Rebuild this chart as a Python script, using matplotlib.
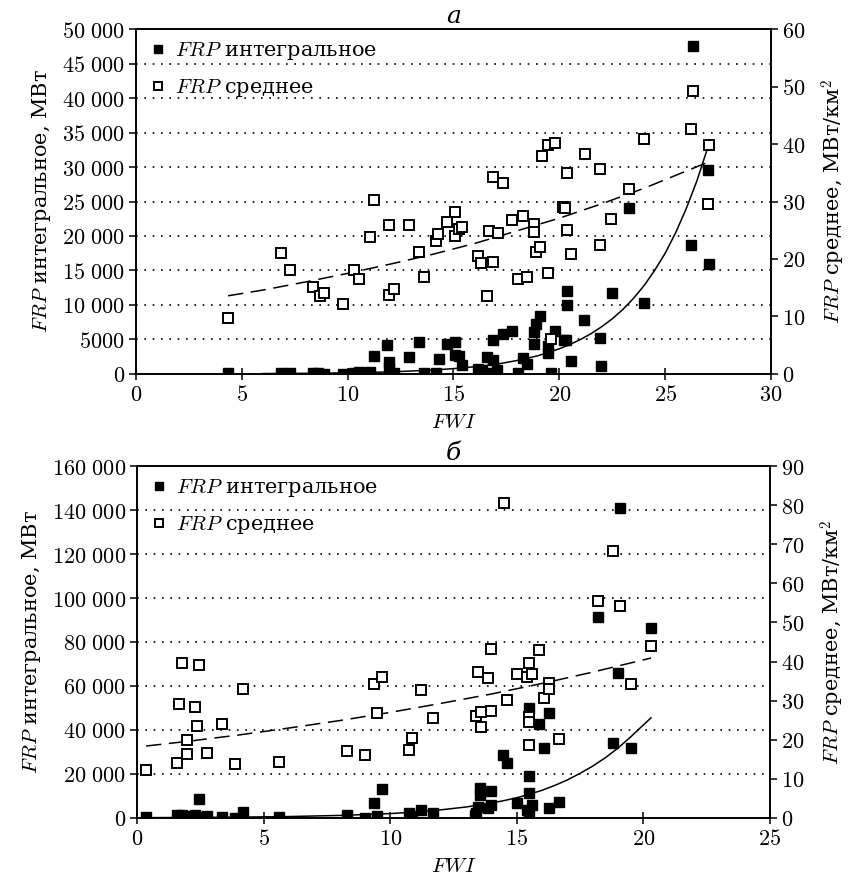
import numpy as np
import matplotlib.pyplot as plt
from matplotlib.ticker import FuncFormatter, MultipleLocator

plt.rcParams['font.family'] = ['DejaVu Serif']
plt.rcParams['mathtext.fontset'] = 'cm'
plt.rcParams['font.size'] = 15

# ---- panel а ----
fwi_int_a = [4.35, 6.86, 7.28, 8.37, 8.60, 8.88, 9.78, 10.28, 10.54, 11.04, 11.25, 11.88,
             11.96, 11.96, 12.20, 12.89, 13.35, 13.60, 14.17, 14.30, 14.68, 15.07, 15.07,
             15.27, 15.42, 16.18, 16.26, 16.34, 16.57, 16.60, 16.86, 16.86, 17.05, 17.36,
             17.76, 18.07, 18.28, 18.47, 18.78, 18.78, 18.91, 19.10, 19.46, 19.46, 19.60,
             19.81, 20.20, 20.33, 20.36, 20.36, 20.57, 21.18, 21.90, 21.98, 22.48, 23.28,
             24.00, 26.20, 26.30, 27.00, 27.08]
frp_int_a = [100, 100, 200, 150, 100, 50, 50, 100, 300, 300, 2600, 4200,
             1700, 900, 100, 2400, 4600, 100, 200, 2100, 4300, 4600, 2750,
             2600, 1250, 680, 200, 480, 100, 2400, 2000, 4950, 580, 5800,
             6200, 100, 2270, 1400, 4300, 6130, 7250, 8450, 4100, 3050, 80,
             6200, 4950, 4900, 12100, 10000, 1930, 7800, 5260, 1200, 11800, 24100,
             10250, 18700, 47500, 29600, 15900]

fwi_mean_a = [4.35, 6.86, 7.28, 8.37, 8.67, 8.88, 9.78, 10.28, 10.54, 11.04, 11.25, 11.96,
              11.96, 12.20, 12.89, 13.35, 13.60, 14.17, 14.28, 14.68, 15.07, 15.07, 15.27,
              15.39, 16.18, 16.29, 16.60, 16.68, 16.86, 16.86, 17.08, 17.36, 17.76, 18.07,
              18.28, 18.47, 18.78, 18.78, 18.91, 19.07, 19.18, 19.46, 19.46, 19.60, 19.81,
              20.17, 20.28, 20.36, 20.36, 20.57, 21.20, 21.90, 21.94, 22.46, 23.28, 24.00,
              26.20, 26.33, 27.00, 27.08]
frp_mean_a = [9.7, 21.0, 18.0, 15.2, 13.6, 14.0, 12.1, 18.0, 16.6, 23.9, 30.3, 25.9,
              13.7, 14.8, 25.9, 21.2, 16.9, 23.1, 24.3, 26.4, 28.2, 24.0, 25.2,
              25.5, 20.5, 19.3, 13.6, 24.9, 19.5, 34.3, 24.5, 33.2, 26.8, 16.5,
              27.5, 16.9, 26.0, 24.7, 21.2, 22.1, 37.9, 39.9, 17.5, 6.1, 40.1,
              29.0, 28.8, 34.9, 25.0, 20.9, 38.3, 35.6, 22.4, 26.9, 32.1, 40.9,
              42.6, 49.3, 29.6, 39.9]

# trend lines
trend_int_a_x = [6, 8, 10, 12, 14, 15, 16, 17, 18, 19, 20, 20.5, 21, 21.5, 22, 22.5, 23,
                 23.5, 24, 24.5, 25, 25.5, 26, 26.5, 27.0]
trend_int_a_y = [60, 100, 160, 300, 560, 780, 1050, 1400, 1950, 2650, 3650, 4280, 5000,
                 5850, 6850, 8000, 9350, 10950, 12800, 15000, 17500, 20500, 24000,
                 28000, 32700]
trend_mean_a_x = [4.35, 6, 8, 10, 12, 14, 16, 18, 20, 22, 24, 26, 27.0]
trend_mean_a_y = [13.6, 14.6, 16.0, 17.5, 19.1, 20.8, 22.7, 24.9, 27.1, 29.6, 32.3, 35.3, 36.8]

# ---- panel б ----
fwi_int_b = [0.36, 1.59, 1.76, 1.99, 2.29, 2.38, 2.46, 2.78, 3.37, 3.86, 4.17, 5.60, 8.28,
             8.99, 9.37, 9.47, 9.68, 10.76, 10.86, 11.20, 11.68, 13.36, 13.38, 13.48, 13.55,
             13.55, 13.87, 13.97, 13.97, 14.47, 14.60, 15.00, 15.39, 15.48, 15.48, 15.48,
             15.48, 15.59, 15.88, 16.07, 16.27, 16.28, 16.67, 18.20, 18.79, 18.99, 19.08,
             19.50, 20.29]
frp_int_b = [300, 1400, 1400, 700, 1200, 300, 8800, 700, 300, 100, 2900, 400, 1200,
             200, 7000, 700, 13200, 2400, 1000, 3600, 2100, 1200, 2100, 5100, 13500,
             10450, 4400, 12300, 5900, 28600, 24800, 6700, 3600, 49900, 19200, 11200,
             1400, 5900, 42600, 31700, 47900, 4400, 7400, 91500, 33900, 66000, 140800,
             32000, 86200]

fwi_mean_b = [0.36, 1.59, 1.67, 1.76, 1.99, 1.99, 2.29, 2.38, 2.46, 2.78, 3.37, 3.86, 4.17,
              5.60, 8.28, 8.99, 9.37, 9.47, 9.68, 10.76, 10.86, 11.20, 11.68, 13.38, 13.48,
              13.57, 13.57, 13.87, 13.97, 13.97, 14.51, 14.60, 15.00, 15.39, 15.48, 15.48,
              15.48, 15.48, 15.59, 15.88, 16.09, 16.28, 16.28, 16.68, 18.20, 18.79, 19.08,
              19.50, 20.29]
frp_mean_b = [12.3, 14.0, 29.1, 39.6, 19.9, 16.3, 28.5, 23.5, 39.1, 16.7, 24.1, 13.7, 32.9,
              14.3, 17.1, 16.0, 34.3, 26.8, 36.1, 17.4, 20.5, 32.7, 25.5, 26.1, 37.4,
              27.2, 23.2, 35.7, 43.1, 27.4, 80.6, 30.2, 36.8, 36.0, 39.7, 25.7,
              24.6, 18.7, 36.8, 43.0, 30.6, 34.6, 33.0, 20.2, 55.6, 68.3, 54.2,
              34.2, 44.0]

trend_int_b_x = [0.36, 2, 4, 6, 8, 10, 11, 12, 13, 14, 14.5, 15, 15.5, 16, 16.5, 17, 17.5,
                 18, 18.5, 19, 19.5, 20, 20.3]
trend_int_b_y = [150, 230, 380, 650, 1150, 2000, 2700, 3700, 5000, 6800, 7900, 9200, 10800,
                 12600, 14800, 17300, 20300, 23600, 27400, 31800, 36900, 42300, 45500]
trend_mean_b_x = [0.36, 2, 4, 6, 8, 10, 12, 14, 16, 18, 20.3]
trend_mean_b_y = [18.4, 19.6, 21.2, 23.0, 24.9, 27.0, 29.3, 31.7, 34.4, 37.3, 40.9]


def thousands(v, pos):
    v = int(round(v))
    if v < 10000:
        return '$%d$' % v
    return '$' + '{:,}'.format(v).replace(',', r'\ ') + '$'


def panel(rect, title, fx, fy, ox, oy, tx, ty, dx, dy, xmax, ymax, ystep, y2max, y2step):
    ax = fig.add_axes(rect)
    ax2 = ax.twinx()
    # dotted grid at left-axis ticks
    for v in np.arange(ystep, ymax, ystep):
        ax.axhline(v, color='black', lw=1.2, ls=(0, (1, 4)), zorder=0)
    p1, = ax.plot(fx, fy, 's', color='black', ms=6.5, ls='none', zorder=3)
    ax.plot(tx, ty, '-', color='black', lw=1.1, zorder=2)
    p2, = ax2.plot(ox, oy, 's', mfc='white', mec='black', mew=1.4, ms=6.5, ls='none', zorder=3)
    ax2.plot(dx, dy, color='black', lw=1.1, ls=(0, (10, 5)), zorder=2)
    ax.set_xlim(0, xmax)
    ax.set_ylim(0, ymax)
    ax2.set_ylim(0, y2max)
    ax.xaxis.set_major_locator(MultipleLocator(5))
    ax.yaxis.set_major_locator(MultipleLocator(ystep))
    ax2.yaxis.set_major_locator(MultipleLocator(y2step))
    ax.yaxis.set_major_formatter(FuncFormatter(thousands))
    ax.xaxis.set_major_formatter(FuncFormatter(lambda v, p: '$%d$' % v))
    ax2.yaxis.set_major_formatter(FuncFormatter(lambda v, p: '$%d$' % v))
    ax.tick_params(axis='x', direction='inout', length=8, width=1.1, pad=3, labelsize=16)
    ax.tick_params(axis='y', direction='out', length=5, width=1.1, pad=3, labelsize=16)
    ax2.tick_params(axis='y', direction='out', length=5, width=1.1, pad=3, labelsize=16)
    for a in (ax, ax2):
        for s in a.spines.values():
            s.set_linewidth(1.2)
    ax.set_xlabel('$FWI$', labelpad=5)
    ax.set_ylabel('$FRP$ интегральное, МВт', labelpad=6)
    ax2.set_ylabel('$FRP$ среднее, МВт/км$^2$', labelpad=10)
    ax.set_title(title, style='italic', pad=4)
    ax2.legend([p1, p2], ['$FRP$ интегральное', '$FRP$ среднее'], loc='upper left',
               frameon=False, handletextpad=0.3, borderaxespad=0.15, labelspacing=0.7,
               markerscale=0.8, handlelength=1.0)
    return ax, ax2


fig = plt.figure(figsize=(8.51, 8.74), dpi=100)
panel([0.1598, 0.5721, 0.7462, 0.3947], 'а', fwi_int_a, frp_int_a, fwi_mean_a, frp_mean_a,
      trend_int_a_x, trend_int_a_y, trend_mean_a_x, trend_mean_a_y, 30, 50000, 5000, 60, 10)
panel([0.161, 0.0641, 0.7438, 0.4027], 'б', fwi_int_b, frp_int_b, fwi_mean_b, frp_mean_b,
      trend_int_b_x, trend_int_b_y, trend_mean_b_x, trend_mean_b_y, 25, 160000, 20000, 90, 10)
fig.savefig('out.png', dpi=100)
